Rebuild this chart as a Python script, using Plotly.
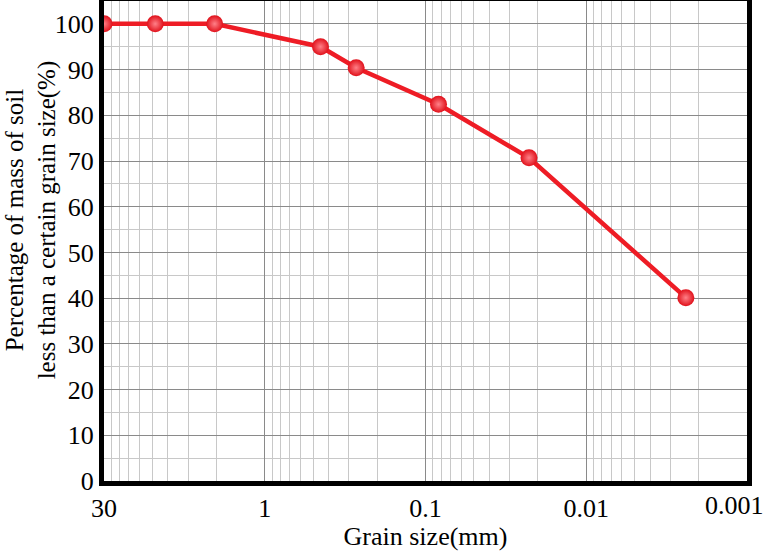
import plotly.graph_objects as go

# Data (grain size in mm, percent passing)
grain_size = [10, 4.8, 2.05, 0.45, 0.27, 0.083, 0.0227, 0.0024]
percent_finer = [100, 100, 100, 95, 90.4, 82.4, 70.7, 40.1]

x_tick_vals = [10, 1, 0.1, 0.01, 0.001]
x_tick_text = ["30", "1", "0.1", "0.01", ""]
last_tick_label = "0.001"
y_tick_vals = [0, 10, 20, 30, 40, 50, 60, 70, 80, 90, 100]

FONT = "Liberation Serif, Times New Roman, serif"
FS = 26

fig = go.Figure()
fig.add_trace(go.Scatter(
    x=grain_size, y=percent_finer, mode="lines+markers",
    line=dict(color="#ee1c25", width=4.5),
    marker=dict(size=17, color="#e0101a",
                gradient=dict(type="radial", color="#ff8088"),
                line=dict(width=0)),
    showlegend=False,
))

fig.add_annotation(
    text="Percentage of mass of soil<br>less than a certain grain size(%)",
    textangle=-90, xref="paper", yref="paper", x=0, y=0.543,
    xanchor="center", yanchor="middle", xshift=-73, showarrow=False,
    font=dict(family=FONT, size=25, color="black"),
)
# last x tick label, kept inside the page like in the reference
fig.add_annotation(
    text=last_tick_label, xref="paper", yref="paper", x=1, y=0,
    xanchor="right", yanchor="top", xshift=19, yshift=-8, showarrow=False,
    font=dict(family=FONT, size=FS, color="black"),
)

fig.update_layout(
    width=766, height=551,
    margin=dict(l=104, r=19, t=1, b=70, autoexpand=False),
    paper_bgcolor="white", plot_bgcolor="white",
    font=dict(family=FONT, size=FS, color="black"),
    xaxis=dict(
        type="log", range=[1.0002, -3.0002], autorange=False,
        automargin=False,
        tickmode="array", tickvals=x_tick_vals, ticktext=x_tick_text,
        showgrid=True, gridcolor="#8a8a8a", gridwidth=1.2,
        minor=dict(showgrid=True, gridcolor="#c8c8c8", gridwidth=1, dtick="D1", ticks=""),
        showline=True, linecolor="black", linewidth=5, mirror=True,
        ticks="", zeroline=False,
        title=dict(text="Grain size(mm)", font=dict(family=FONT, size=FS, color="black"), standoff=4),
        tickfont=dict(family=FONT, size=FS, color="black"),
    ),
    yaxis=dict(
        range=[0, 105], autorange=False,
        automargin=False,
        tickmode="array", tickvals=y_tick_vals,
        showgrid=True, gridcolor="#8a8a8a", gridwidth=1.2,
        minor=dict(showgrid=True, gridcolor="#c8c8c8", gridwidth=1, dtick=5, ticks=""),
        showline=True, linecolor="black", linewidth=5, mirror=True,
        ticks="", zeroline=False,
        tickfont=dict(family=FONT, size=FS, color="black"),
    ),
)

fig.write_html("out.html")
